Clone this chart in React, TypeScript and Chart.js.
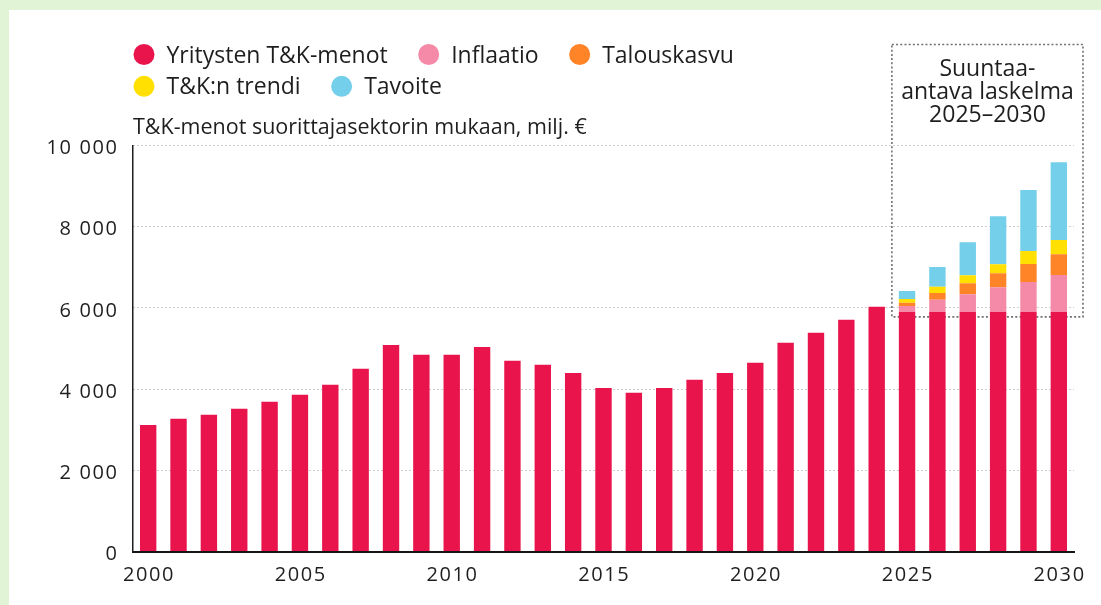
import React, { useEffect, useRef } from 'react';
import { Chart, registerables } from 'chart.js';

Chart.register(...registerables);

const years = [
  '2000', '2001', '2002', '2003', '2004', '2005', '2006', '2007', '2008', '2009',
  '2010', '2011', '2012', '2013', '2014', '2015', '2016', '2017', '2018', '2019',
  '2020', '2021', '2022', '2023', '2024', '2025', '2026', '2027', '2028', '2029', '2030',
];
const shownYearLabels = ['2000', '2005', '2010', '2015', '2020', '2025', '2030'];

const companyRD = [
  3120, 3270, 3370, 3520, 3690, 3860, 4110, 4500, 5090, 4850,
  4850, 5040, 4700, 4600, 4400, 4030, 3910, 4030, 4230, 4400,
  4650, 5140, 5390, 5710, 6030, 5900, 5900, 5900, 5900, 5900, 5900,
];
const N = null;
const inflation = [N, N, N, N, N, N, N, N, N, N, N, N, N, N, N, N, N, N, N, N, N, N, N, N, N, 150, 300, 440, 610, 740, 910];
const growth = [N, N, N, N, N, N, N, N, N, N, N, N, N, N, N, N, N, N, N, N, N, N, N, N, N, 75, 170, 270, 345, 445, 515];
const trend = [N, N, N, N, N, N, N, N, N, N, N, N, N, N, N, N, N, N, N, N, N, N, N, N, N, 95, 150, 195, 220, 320, 345];
const target = [N, N, N, N, N, N, N, N, N, N, N, N, N, N, N, N, N, N, N, N, N, N, N, N, N, 200, 490, 810, 1180, 1500, 1920];

const seriesNames = ['Yritysten T&K-menot', 'Inflaatio', 'Talouskasvu', 'T&K:n trendi', 'Tavoite'];
const seriesColors = ['#E9144C', '#F48AA7', '#FF8327', '#FFE000', '#74CFEA'];
const legendRows = [[0, 1, 2], [3, 4]];

const yMin = 0;
const yMax = 10000;
const yStep = 2000;
const axisTitle = 'T&K-menot suorittajasektorin mukaan, milj. €';
const boxLines = ['Suuntaa-', 'antava laskelma', '2025–2030'];
const boxFromIndex = 25;
const boxBottomValue = 5780;

const FONT = '"Open Sans", Lato, sans-serif';
const TEXT = '#1e1e1e';

function fmt(v: number): string {
  return String(v).replace(/\B(?=(\d{3})+(?!\d))/g, ' ');
}

const overlayPlugin = {
  id: 'overlayPlugin',
  beforeDraw(chart: any) {
    // slightly wider digit spacing for the axis tick labels
    try {
      chart.ctx.letterSpacing = '1.6px';
    } catch (e) {
      /* ignore */
    }
  },
  beforeDatasetsDraw(chart: any) {
    const { ctx, chartArea, scales } = chart;
    const xs = scales.x;
    const left = (xs.getPixelForValue(boxFromIndex - 1) + xs.getPixelForValue(boxFromIndex)) / 2;
    const right = chartArea.right + 9;
    const top = 34.5;
    const bottom = scales.y.getPixelForValue(boxBottomValue);
    ctx.save();
    ctx.setLineDash([2, 2.2]);
    ctx.lineWidth = 1.6;
    ctx.strokeStyle = '#707070';
    ctx.strokeRect(left, top, right - left, bottom - top);
    ctx.restore();
  },
  afterDraw(chart: any) {
    const { ctx, chartArea, scales } = chart;
    try {
      ctx.letterSpacing = '0px';
    } catch (e) {
      /* ignore */
    }
    ctx.save();
    // legend
    ctx.font = `23px ${FONT}`;
    ctx.textAlign = 'left';
    ctx.textBaseline = 'alphabetic';
    legendRows.forEach((row, r) => {
      let x = 124.5;
      const cy = 44.5 + r * 31.8;
      row.forEach((i) => {
        ctx.beginPath();
        ctx.fillStyle = seriesColors[i];
        ctx.arc(x + 10.5, cy, 10.5, 0, Math.PI * 2);
        ctx.fill();
        ctx.fillStyle = TEXT;
        ctx.fillText(seriesNames[i], x + 33, cy + 8);
        x += 33 + ctx.measureText(seriesNames[i]).width + 30.5;
      });
    });
    // axis title
    ctx.font = `21.5px ${FONT}`;
    ctx.fillStyle = TEXT;
    ctx.fillText(axisTitle, chartArea.left, 124);
    // box text
    const xs = scales.x;
    const left = (xs.getPixelForValue(boxFromIndex - 1) + xs.getPixelForValue(boxFromIndex)) / 2;
    const right = chartArea.right + 9;
    const cx = (left + right) / 2;
    ctx.font = `23px ${FONT}`;
    ctx.textAlign = 'center';
    const baselines = [66, 88.5, 111.7];
    boxLines.forEach((t, i) => ctx.fillText(t, cx, baselines[i]));
    ctx.restore();
  },
};

export default function App() {
  const ref = useRef<HTMLCanvasElement>(null);
  useEffect(() => {
    document.body.style.margin = '0';
    const canvas = ref.current;
    if (!canvas) return;
    const data = [companyRD, inflation, growth, trend, target];
    const chart = new Chart(canvas, {
      type: 'bar',
      data: {
        labels: years,
        datasets: data.map((d, i) => ({
          label: seriesNames[i],
          data: d as any,
          backgroundColor: seriesColors[i],
          borderWidth: 0,
          barPercentage: 0.54,
          categoryPercentage: 1,
        })),
      },
      options: {
        animation: false,
        responsive: false,
        maintainAspectRatio: false,
        devicePixelRatio: 1,
        layout: { padding: { top: 135.5, right: 27, left: 0, bottom: 0 } },
        plugins: {
          legend: { display: false },
          tooltip: { enabled: false },
          title: { display: false },
        },
        scales: {
          x: {
            stacked: true,
            z: 1,
            grid: { display: false },
            border: { display: true, color: '#151515', width: 2 },
            ticks: {
              autoSkip: false,
              maxRotation: 0,
              minRotation: 0,
              padding: 4,
              labelOffset: 0.8,
              color: TEXT,
              font: { family: FONT, size: 20 },
              callback: (_v: any, i: number) => (shownYearLabels.includes(years[i]) ? years[i] : ''),
            },
            afterFit: (s: any) => {
              s.height = 53.4;
            },
          },
          y: {
            stacked: true,
            min: yMin,
            max: yMax,
            ticks: {
              stepSize: yStep,
              padding: 14.5,
              labelOffset: 3,
              color: TEXT,
              font: { family: FONT, size: 20 },
              callback: (v: any) => fmt(Number(v)),
            },
            grid: {
              drawTicks: false,
              lineWidth: 1,
              color: (c: any) => (c.tick && c.tick.value === 0 ? 'rgba(0,0,0,0)' : '#9a9a9a'),
            },
            border: { display: true, color: '#1e1e1e', width: 1.5, dash: [1, 3] },
            afterFit: (s: any) => {
              s.width = 124;
            },
          },
        },
      },
      plugins: [overlayPlugin],
    });
    return () => chart.destroy();
  }, []);
  return (
    <div style={{ position: 'relative', width: 1101, height: 605, background: '#E2F4D6', overflow: 'hidden' }}>
      <div style={{ position: 'absolute', left: 9, top: 10, width: 1092, height: 595, background: '#ffffff' }}>
        <canvas ref={ref} width={1092} height={595} style={{ display: 'block', width: 1092, height: 595 }} />
      </div>
    </div>
  );
}
